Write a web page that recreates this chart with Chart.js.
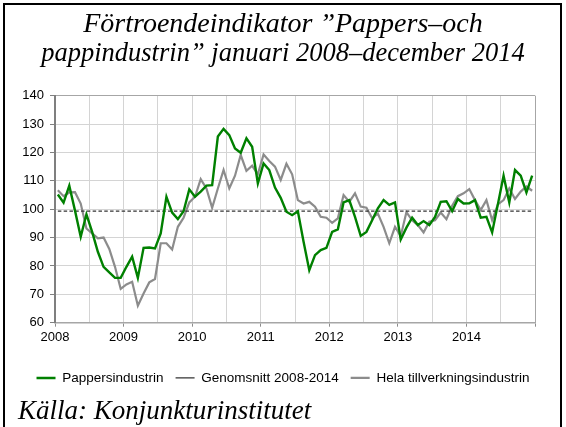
<!DOCTYPE html>
<html>
<head>
<meta charset="utf-8">
<script src="https://cdn.jsdelivr.net/npm/chart.js@4.4.1/dist/chart.umd.min.js"></script>
<style>
  html, body { margin: 0; padding: 0; background: #fff; }
  #wrap { position: relative; width: 566px; height: 427px; overflow: hidden; }
  #frame { position: absolute; left: 3px; top: 3px; width: 555px; height: 440px; border: 2px solid #000; pointer-events: none; }
  #source { position: absolute; left: 18px; top: 397px; font: italic 27px/27px 'Liberation Serif', 'Times New Roman', serif; color: #000; white-space: nowrap; }
</style>
</head>
<body>
<div id="wrap">
  <canvas id="chart" width="566" height="427"></canvas>
  <div id="source">Källa: Konjunkturinstitutet</div>
  <div id="frame"></div>
</div>
<script>
// Förtroendeindikator, monthly jan 2008 - dec 2014
const years = ['2008', '2009', '2010', '2011', '2012', '2013', '2014'];

const pappers = [
  105.2, 102.3, 108.3, 99.5, 90.3, 98.2, 92.0, 85.0, 79.7, 77.7, 75.8, 75.8,   // 2008
  79.7, 83.3, 75.8, 86.4, 86.5, 86.2, 91.5, 104.4, 98.8, 96.5, 99.3, 107.0,    // 2009
  104.4, 106.2, 108.3, 108.5, 125.6, 128.3, 126.1, 121.4, 119.9, 125.0, 122.0, 109.1, // 2010
  116.1, 113.8, 107.6, 104.0, 99.1, 97.9, 99.3, 88.5, 78.5, 83.8, 85.6, 86.4,  // 2011
  92.0, 92.9, 102.4, 103.2, 97.3, 90.6, 92.0, 96.1, 100.3, 103.2, 101.5, 102.4, // 2012
  89.3, 93.5, 97.0, 94.4, 95.8, 94.4, 97.3, 102.6, 102.8, 99.3, 103.6, 102.0,  // 2013
  102.1, 103.2, 97.0, 97.3, 91.8, 101.7, 111.8, 102.4, 113.8, 111.8, 105.9, 111.8 // 2014
];

const helaIndustrin = [
  106.7, 104.6, 105.9, 106.0, 102.0, 93.2, 91.5, 89.7, 90.0, 86.0, 79.7, 71.9,  // 2008
  73.5, 74.4, 66.0, 70.3, 74.2, 75.4, 88.0, 88.0, 85.8, 93.8, 97.0, 102.4,     // 2009
  104.4, 110.6, 107.3, 100.5, 107.3, 113.8, 107.3, 111.8, 119.1, 113.5, 115.3, 112.3, // 2010
  119.3, 117.0, 115.0, 110.3, 116.0, 112.3, 103.2, 102.0, 102.6, 100.9, 97.3, 97.0, // 2011
  95.2, 96.8, 105.0, 102.6, 105.6, 100.9, 100.5, 96.8, 98.5, 93.8, 88.0, 93.8, // 2012
  90.5, 99.0, 96.1, 94.4, 91.8, 95.6, 96.1, 98.8, 96.5, 101.2, 104.6, 105.6,   // 2013
  107.1, 103.2, 99.7, 103.2, 96.1, 101.7, 103.2, 107.3, 103.6, 106.2, 108.0, 106.5 // 2014
];

const genomsnitt = 99.3;

const SANS = "'Liberation Sans', Arial, sans-serif";
const SERIF = "'Liberation Serif', 'Times New Roman', serif";

// months sit in the middle of their slot (Excel "between tick marks")
function toPoints(values) {
  return values.map(function(v, i) { return { x: i + 0.5, y: v }; });
}
const avgPoints = pappers.map(function(v, i) { return { x: i + 0.5, y: genomsnitt }; });

new Chart(document.getElementById('chart'), {
  type: 'line',
  data: {
    datasets: [
      {
        label: 'Pappersindustrin',
        data: toPoints(pappers),
        borderColor: '#008000',
        borderWidth: 2.4,
        pointRadius: 0,
        tension: 0
      },
      {
        label: 'Genomsnitt 2008-2014',
        data: avgPoints,
        borderColor: '#333333',
        borderWidth: 1.2,
        borderDash: [3.5, 2.3],
        pointRadius: 0
      },
      {
        label: 'Hela tillverkningsindustrin',
        data: toPoints(helaIndustrin),
        borderColor: '#8c8c8c',
        borderWidth: 2.2,
        pointRadius: 0,
        tension: 0
      }
    ]
  },
  options: {
    responsive: false,
    animation: false,
    layout: { padding: { left: 0, right: 0, top: 0, bottom: 32.3 } },
    plugins: {
      // two title lines: first line is set a bit wider in the original
      title: {
        display: true,
        text: 'Förtroendeindikator \u201DPappers\u2013och',
        color: '#000',
        font: { family: SERIF, size: 28, style: 'italic', weight: 'normal', lineHeight: 1.0 },
        padding: { top: 11, bottom: 0 }
      },
      subtitle: {
        display: true,
        text: 'pappindustrin\u201D januari 2008\u2013december 2014',
        color: '#000',
        font: { family: SERIF, size: 26.5, style: 'italic', weight: 'normal', lineHeight: 1.0 },
        padding: { top: 2.1, bottom: 28.1 }
      },
      legend: {
        position: 'bottom',
        labels: {
          usePointStyle: true,
          pointStyle: 'line',
          pointStyleWidth: 19,
          color: '#000',
          font: { family: SANS, size: 13.5 },
          padding: 12
        }
      },
      tooltip: { enabled: false }
    },
    scales: {
      x: {
        type: 'linear',
        min: 0,
        max: 84,
        afterFit: function(scale) { scale.height = 36.5; },
        ticks: {
          stepSize: 6,
          autoSkip: false,
          maxRotation: 0,
          padding: 3,
          color: '#000',
          font: { family: SANS, size: 13 },
          callback: function(v) { return (v % 12 === 0 && v < 84) ? years[v / 12] : ''; }
        },
        grid: {
          color: function(ctx) { return ctx.tick && ctx.tick.value === 84 ? '#a6a6a6' : '#d4d4d4'; },
          tickLength: 4,
          tickColor: function(ctx) { return ctx.tick && ctx.tick.value % 12 === 0 ? '#8c8c8c' : 'rgba(0,0,0,0)'; }
        },
        border: { color: '#a6a6a6', width: 1.5 }
      },
      y: {
        min: 60,
        max: 140,
        afterFit: function(scale) { scale.width = 55; },
        ticks: {
          stepSize: 10,
          padding: 6,
          color: '#000',
          font: { family: SANS, size: 13 }
        },
        grid: {
          color: function(ctx) { return ctx.tick && ctx.tick.value === 140 ? '#a6a6a6' : '#d4d4d4'; },
          tickLength: 5,
          tickColor: '#808080'
        },
        border: { color: '#7f7f7f', width: 2 }
      },
      // empty right margin so title and legend centre on the whole canvas
      yRight: {
        position: 'right',
        afterFit: function(scale) { scale.width = 31; },
        ticks: { display: false },
        grid: { display: false },
        border: { display: false }
      }
    }
  }
});
</script>
</body>
</html>
